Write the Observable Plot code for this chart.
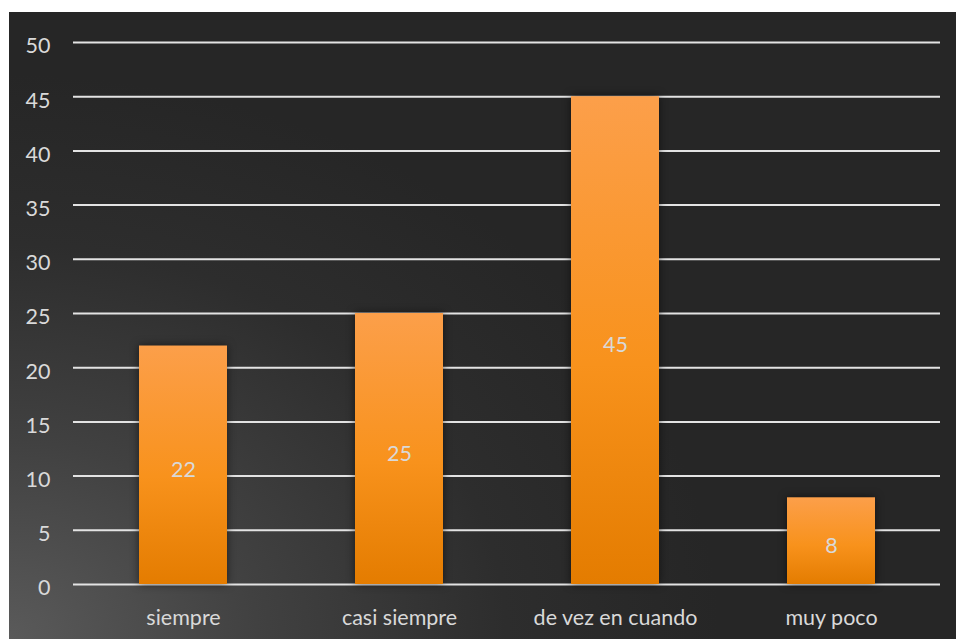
<!DOCTYPE html>
<html>
<head>
<meta charset="utf-8">
<script src="https://cdn.jsdelivr.net/npm/d3@7"></script>
<script src="https://cdn.jsdelivr.net/npm/@observablehq/plot@0.6"></script>
<style>
  body { margin: 0; background: #ffffff; }
  #chart { position: absolute; left: 9px; top: 12px; }
</style>
</head>
<body>
<div id="chart"></div>
<script>
// Survey answers and their counts
const categories = ["siempre", "casi siempre", "de vez en cuando", "muy poco"];
const values = [22, 25, 45, 8];
const yTicks = [0, 5, 10, 15, 20, 25, 30, 35, 40, 45, 50];

const data = categories.map((category, i) => ({ category, value: values[i] }));

const labelColor = "#d9d9d9";
const fontSize = 21.5;

const chart = Plot.plot({
  width: 947,
  height: 627,
  marginLeft: 64,
  marginRight: 16,
  marginTop: 30,
  marginBottom: 55,
  style: {
    background: "radial-gradient(ellipse 75% 90% at 0% 100%, #5a5a5a 0%, #414141 35%, #2d2d2d 70%, #262626 100%)",
    fontFamily: "Lato, 'Open Sans', sans-serif",
    fontSize: `${fontSize}px`,
    color: labelColor
  },
  x: { domain: categories, paddingInner: 0.594, paddingOuter: 0.297, label: null },
  y: { domain: [0, 50], label: null },
  marks: [
    Plot.ruleY(yTicks, { stroke: "#e3e3e3", strokeWidth: 2 }),
    Plot.barY(data, { x: "category", y: "value", fill: "url(#barFill)" }),
    Plot.text(data, {
      x: "category",
      y: (d) => d.value / 2,
      text: "value",
      fill: labelColor,
      fontSize,
      dy: 5
    }),
    Plot.axisY(yTicks, { tickSize: 0, tickPadding: 23, dy: 4, fill: labelColor, fontSize, label: null }),
    Plot.axisX({ tickSize: 0, tickPadding: 25, fill: labelColor, fontSize, label: null })
  ]
});

// Vertical orange gradient for each bar, plus a soft shadow around the bars
const svg = d3.select(chart);
const grad = svg.insert("defs", ":first-child")
  .append("linearGradient")
  .attr("id", "barFill")
  .attr("x1", 0).attr("y1", 0).attr("x2", 0).attr("y2", 1);
grad.append("stop").attr("offset", "0%").attr("stop-color", "#fc9f4a");
grad.append("stop").attr("offset", "55%").attr("stop-color", "#f8921c");
grad.append("stop").attr("offset", "100%").attr("stop-color", "#e47c00");
svg.selectAll("g[aria-label='bar']").style("filter", "drop-shadow(0px 0px 4px rgba(0,0,0,0.55))");

document.getElementById("chart").append(chart);
</script>
</body>
</html>
